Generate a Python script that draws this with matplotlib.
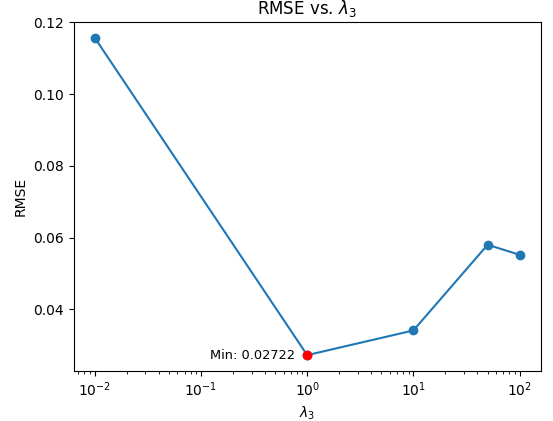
import matplotlib
matplotlib.use("Agg")
import matplotlib.pyplot as plt

lambdas = [0.01, 1, 10, 50, 100]
rmse = [0.1157, 0.02722, 0.0341, 0.0580, 0.0552]

fig = plt.figure(figsize=(5.53, 4.21), dpi=100)
ax = fig.add_axes([0.133, 0.1188, 0.845, 0.829])
ax.plot(lambdas, rmse, marker='o', color='#1f77b4')
ax.set_xscale('log')
imin = rmse.index(min(rmse))
ax.plot(lambdas[imin], rmse[imin], 'o', color='red')
ax.annotate(f"Min: {rmse[imin]:.5f}", (lambdas[imin], rmse[imin]),
            xytext=(-9, 0), textcoords='offset points', ha='right', va='center',
            fontsize=9.3)
ax.set_xlabel(r'$\lambda_3$')
ax.set_ylabel('RMSE')
ax.set_title(r'RMSE vs. $\lambda_3$')
fig.savefig('out.png', dpi=100)
